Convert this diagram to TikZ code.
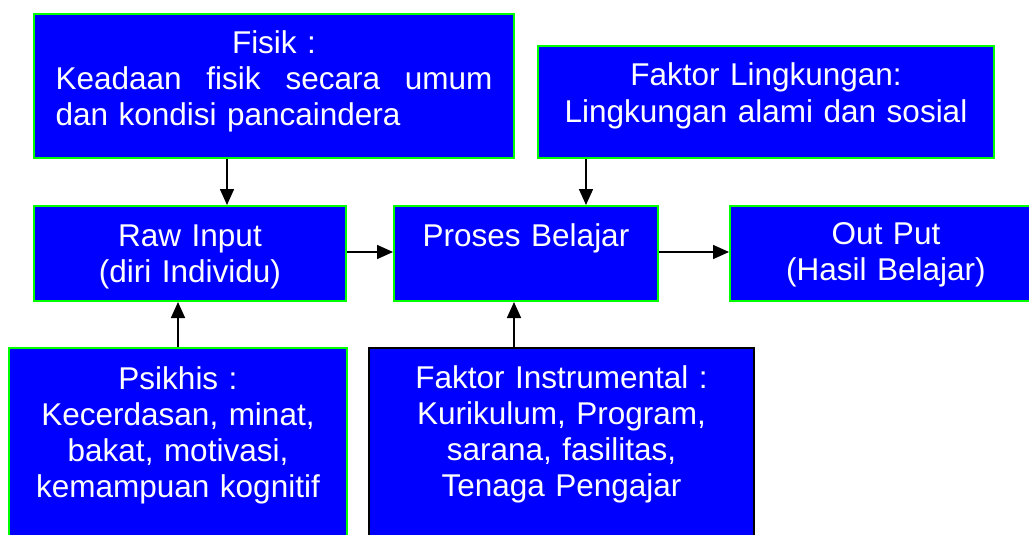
\documentclass[tikz,border=0pt]{standalone}
\usepackage{fontspec}
\setmainfont{Liberation Sans}
\definecolor{BoxBlue}{RGB}{0,0,255}
\definecolor{EdgeGreen}{RGB}{0,255,0}
\usetikzlibrary{positioning,arrows.meta,calc}
\tikzset{>={Triangle[length=16pt,width=14pt]}}
\tikzset{factorbox/.style={rectangle,draw=EdgeGreen,fill=BoxBlue,line width=2pt,text=white,anchor=north west,inner ysep=0pt,align=center,font=\fontsize{31.5}{36}\selectfont}}
\tikzset{flowarrow/.style={->,line width=1.6pt}}
\begin{document}
\begin{tikzpicture}[x=1pt,y=-1pt]
                \clip (0,0) rectangle (1029,535);
                \fill[white] (0,0) rectangle (1029,535);
                % top row
                \node[factorbox,align=left,text width=437pt,inner xsep=21.5pt,text height=40pt,text depth=104pt] (fisik) at (33,13)
                    {\makebox[437pt][c]{Fisik :}\\\makebox[437pt]{Keadaan\hfill fisik\hfill secara\hfill umum}\\dan kondisi pancaindera};
                \node[factorbox,text width=430pt,inner xsep=13pt,text height=40pt,text depth=72pt] (lingkungan) at (537,45)
                    {Faktor Lingkungan:\\Lingkungan alami dan sosial};
                % middle row
                \node[factorbox,text width=290pt,inner xsep=11pt,text height=40pt,text depth=55pt] (raw) at (33,205)
                    {Raw Input\\(diri Individu)};
                \node[factorbox,text width=244pt,inner xsep=10pt,text height=40pt,text depth=55pt] (proses) at (393,205)
                    {Proses Belajar};
                \node[factorbox,text width=290pt,inner xsep=11pt,text height=38pt,text depth=57pt] (output) at (729,205)
                    {Out Put\\(Hasil Belajar)};
                % bottom row
                \node[factorbox,text width=318pt,inner xsep=10pt,text height=41pt,text depth=200pt] (psikhis) at (8,347)
                    {Psikhis :\\Kecerdasan, minat,\\bakat, motivasi,\\kemampuan kognitif};
                \node[factorbox,draw=black,text width=365pt,inner xsep=10pt,text height=40pt,text depth=200pt] (instrumental) at (368,347)
                    {Faktor Instrumental :\\Kurikulum, Program,\\sarana, fasilitas,\\Tenaga Pengajar};
                % connectors
                \draw[flowarrow] ([xshift=37pt]raw.north |- fisik.south) -- ([xshift=37pt]raw.north);
                \draw[flowarrow] ([xshift=60pt]proses.north |- lingkungan.south) -- ([xshift=60pt]proses.north);
                \draw[flowarrow] (raw.east |- 0,252) -- (proses.west |- 0,252);
                \draw[flowarrow] (proses.east |- 0,252) -- (output.west |- 0,252);
                \draw[flowarrow] (psikhis.north) -- (psikhis.north |- raw.south);
                \draw[flowarrow] ([xshift=-12pt]proses.south |- instrumental.north) -- ([xshift=-12pt]proses.south);
\end{tikzpicture}
\end{document}
